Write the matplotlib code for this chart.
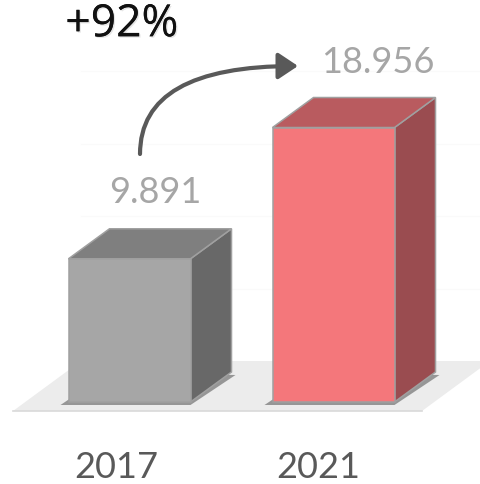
import matplotlib
matplotlib.use("Agg")
import matplotlib.pyplot as plt
from matplotlib.patches import Polygon, FancyArrowPatch
import matplotlib.patheffects as pe

# Data
years = ["2017", "2021"]
values = [9.891, 18.956]
value_labels = ["9.891", "18.956"]
change_label = "+92%"

front_colors = ["#a6a6a6", "#f4777b"]
top_colors = ["#7f7f7f", "#b95b5f"]
side_colors = ["#686868", "#9a4c50"]

W, H, DPI = 4.8, 4.85, 100
fig = plt.figure(figsize=(W, H), dpi=DPI)
ax = fig.add_axes([0, 0, 1, 1])

# Scale: one category step = 204 px, one value unit = 14.48 px
XSTEP, YSTEP = 204.0, 14.48
X_ORIGIN, Y_BASE = 129.5, 403.0


def px(xp, yp):
    """Convert pixel position (from top-left) to data coordinates."""
    return ((xp - X_ORIGIN) / XSTEP, (Y_BASE - yp) / YSTEP)


x0, y1 = px(0, 0)
x1, y0 = px(W * DPI, H * DPI)
ax.set_xlim(x0, x1)
ax.set_ylim(y0, y1)
ax.axis("off")

bar_w = 122 / XSTEP
dx, dy = 41 / XSTEP, 30 / YSTEP

# Floor
fl_front = -9 / YSTEP
fl_back = 41 / YSTEP
fdx = 68 / XSTEP
fl_l, fl_r = px(13, 0)[0], px(422, 0)[0]
ax.add_patch(Polygon([(fl_l, fl_front), (fl_r, fl_front), (fl_r + fdx, fl_back),
                      (fl_l + fdx, fl_back)], closed=True, facecolor="#ececec",
                     edgecolor="none", zorder=1))
ax.plot([fl_l, fl_r], [fl_front, fl_front], color="#d9d9d9", lw=1.2, zorder=1.1)

# Faint gridlines on the back wall
for g in [5, 10, 15, 20]:
    yy = fl_back + g
    ax.plot([fl_l + fdx, x1], [yy, yy], color="#fafafa", lw=1.0, zorder=0.5)

# 3D bars
for i, v in enumerate(values):
    L, R = i - bar_w / 2, i + bar_w / 2
    # soft shadow at the base
    sx, sy = 8 / XSTEP, 3 / YSTEP
    ax.add_patch(Polygon([(L - sx, -sy), (R, -sy), (R + dx + 4 / XSTEP, dy - sy),
                          (L + dx, dy)], closed=True, facecolor="#505050",
                         edgecolor="none", alpha=0.55, zorder=2))
    ec = "#a0a0a0"
    ax.add_patch(Polygon([(R, 0), (R + dx, dy), (R + dx, v + dy), (R, v)], closed=True,
                         facecolor=side_colors[i], edgecolor=ec, lw=1.1, zorder=3))
    ax.add_patch(Polygon([(L, v), (R, v), (R + dx, v + dy), (L + dx, v + dy)], closed=True,
                         facecolor=top_colors[i], edgecolor=ec, lw=1.1, zorder=3))
    ax.add_patch(Polygon([(L, 0), (R, 0), (R, v), (L, v)], closed=True,
                         facecolor=front_colors[i], edgecolor=ec, lw=1.1, zorder=4))

FONT = "Lato"

# Value labels
label_pos = [px(155, 192), px(378, 62)]
for (lx, ly), t in zip(label_pos, value_labels):
    ax.text(lx, ly, t, ha="center", va="center", fontsize=26, color="#a6a6a6",
            family=FONT, zorder=5)

# Category labels
for i, t in enumerate(years):
    cx = px([116, 318][i], 467)
    ax.text(cx[0], cx[1], t, ha="center", va="center", fontsize=26, color="#595959",
            family=FONT, zorder=5)

# Growth annotation
gx, gy = px(122, 26)
ax.text(gx, gy, change_label, ha="center", va="center", fontsize=32, color="#111111",
        family="Open Sans", zorder=6,
        path_effects=[pe.withSimplePatchShadow(offset=(1.0, -1.0), shadow_rgbFace="#000000",
                                               alpha=0.1), pe.Normal()])

arrow = FancyArrowPatch(px(140, 155), px(298, 67),
                        connectionstyle="angle3,angleA=90,angleB=0",
                        arrowstyle="-|>,head_length=12,head_width=8",
                        color="#595959", lw=3.0, zorder=6, shrinkA=0, shrinkB=0)
ax.add_patch(arrow)

fig.savefig("out.png", dpi=DPI)
